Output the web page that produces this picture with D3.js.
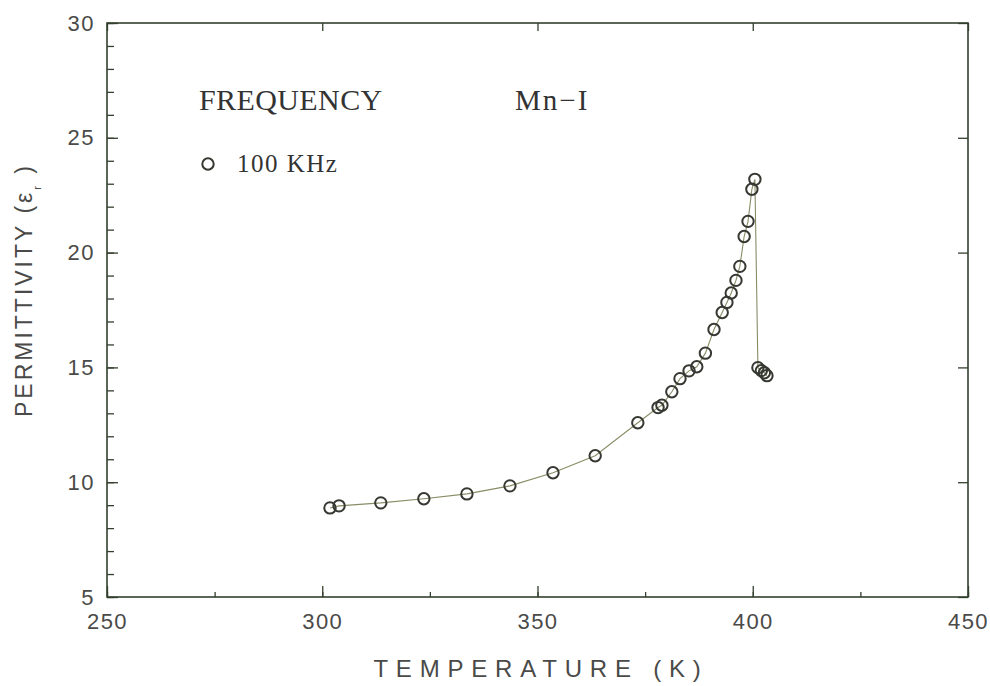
<!DOCTYPE html>
<html>
<head>
<meta charset="utf-8">
<script src="https://cdn.jsdelivr.net/npm/d3@7"></script>
<style>
  body { margin: 0; background: #fff; }
  svg { display: block; }
</style>
</head>
<body>
<div class="chart"></div>
<script>
// data (Mn-I, 100 KHz)
var temperature = [301.8, 303.9, 313.6, 323.6, 333.6, 343.6, 353.6, 363.4, 373.3, 378.0,
    378.9, 381.2, 383.1, 385.2, 387.0, 389.0, 391.0, 392.9, 394.0, 395.0,
    396.1, 397.0, 398.0, 398.9, 399.8, 400.5, 401.2, 402.0, 402.7, 403.3];
var permittivity = [8.88, 8.97, 9.10, 9.28, 9.49, 9.84, 10.41, 11.15, 12.59, 13.25,
    13.35, 13.94, 14.51, 14.85, 15.03, 15.62, 16.65, 17.39, 17.83, 18.24,
    18.79, 19.40, 20.70, 21.36, 22.76, 23.19, 14.99, 14.86, 14.77, 14.64];
var xTicks = [250, 300, 350, 400, 450];
var yTicks = [5, 10, 15, 20, 25, 30];

var svgWidth = 990;
var svgHeight = 686;

var margin = { top: 23, right: 22, bottom: 89, left: 107 };
var width = svgWidth - margin.left - margin.right;
var height = svgHeight - margin.top - margin.bottom;

var frameColor = "#34402f";
var textColor = "#4a4a48";

var svg = d3.select(".chart")
    .append("svg")
    .attr("width", svgWidth)
    .attr("height", svgHeight);

var chartGroup = svg.append("g")
    .attr("transform", `translate(${margin.left}, ${margin.top})`);

var xScale = d3.scaleLinear().domain([250, 450]).range([0, width]);
var yScale = d3.scaleLinear().domain([5, 30]).range([height, 0]);

// minor ticks
var xMinor = d3.range(250, 451, 25);
var yMinor = d3.range(5, 31, 1);

function styleAxis(g) {
    g.select(".domain").remove();
    g.selectAll(".tick line").attr("stroke", frameColor).attr("stroke-width", 1.3);
    g.selectAll(".tick text")
        .attr("fill", textColor)
        .style("font-family", "'Liberation Sans', Arial, sans-serif")
        .style("font-size", "22px")
        .style("letter-spacing", "1.5px");
}

// bottom: minor + major ticks pointing in
chartGroup.append("g")
    .attr("transform", `translate(0, ${height})`)
    .call(d3.axisBottom(xScale).tickValues(xMinor).tickSize(-5).tickFormat(""))
    .call(styleAxis);
chartGroup.append("g")
    .attr("transform", `translate(0, ${height})`)
    .call(d3.axisBottom(xScale).tickValues(xTicks).tickSize(-11).tickPadding(16).tickFormat(d3.format("d")))
    .call(styleAxis);

// top: major ticks only
chartGroup.append("g")
    .call(d3.axisTop(xScale).tickValues(xTicks).tickSize(-8).tickFormat(""))
    .call(styleAxis);

// left: minor + major
chartGroup.append("g")
    .call(d3.axisLeft(yScale).tickValues(yMinor).tickSize(-7).tickFormat(""))
    .call(styleAxis);
chartGroup.append("g")
    .call(d3.axisLeft(yScale).tickValues(yTicks).tickSize(-11).tickPadding(12).tickFormat(d3.format("d")))
    .call(styleAxis);

// right: major ticks only
chartGroup.append("g")
    .attr("transform", `translate(${width}, 0)`)
    .call(d3.axisRight(yScale).tickValues(yTicks).tickSize(-10).tickFormat(""))
    .call(styleAxis);

// frame
chartGroup.append("rect")
    .attr("x", 0)
    .attr("y", 0)
    .attr("width", width)
    .attr("height", height)
    .attr("fill", "none")
    .attr("stroke", frameColor)
    .attr("stroke-width", 1.6);

var points = temperature.map(function(t, i) {
    return { t: t, v: permittivity[i] };
});

var line = d3.line()
    .x(d => xScale(d.t))
    .y(d => yScale(d.v));

chartGroup.append("path")
    .datum(points)
    .attr("d", line)
    .attr("fill", "none")
    .attr("stroke", "#8a8c66")
    .attr("stroke-width", 1.1);

chartGroup.selectAll("circle.pt")
    .data(points)
    .enter()
    .append("circle")
    .attr("class", "pt")
    .attr("cx", d => xScale(d.t))
    .attr("cy", d => yScale(d.v))
    .attr("r", 5.7)
    .attr("fill", "none")
    .attr("stroke", "#363832")
    .attr("stroke-width", 2);

// annotations
var serif = "'Liberation Serif', 'Times New Roman', serif";

svg.append("text")
    .attr("x", 199)
    .attr("y", 110)
    .attr("fill", "#333")
    .style("font-family", serif)
    .style("font-size", "30px")
    .style("letter-spacing", "0.4px")
    .text("FREQUENCY");

svg.append("text")
    .attr("x", 515)
    .attr("y", 110)
    .attr("fill", "#333")
    .style("font-family", serif)
    .style("font-size", "29px")
    .style("letter-spacing", "2px")
    .text("Mn\u2212I");

svg.append("circle")
    .attr("cx", 208)
    .attr("cy", 164)
    .attr("r", 5.7)
    .attr("fill", "none")
    .attr("stroke", "#363832")
    .attr("stroke-width", 2);

svg.append("text")
    .attr("x", 237)
    .attr("y", 172)
    .attr("fill", "#333")
    .style("font-family", serif)
    .style("font-size", "25px")
    .style("letter-spacing", "1.5px")
    .text("100 KHz");

// axis titles
svg.append("text")
    .attr("x", 541)
    .attr("y", 677)
    .attr("text-anchor", "middle")
    .attr("fill", textColor)
    .style("font-family", "'Liberation Sans', Arial, sans-serif")
    .style("font-size", "24px")
    .style("letter-spacing", "7.8px")
    .text("TEMPERATURE (K)");

var yLabel = svg.append("text")
    .attr("transform", "translate(32, 290) rotate(-90)")
    .attr("text-anchor", "middle")
    .attr("fill", textColor)
    .style("font-family", "'Liberation Sans', Arial, sans-serif")
    .style("font-size", "23px")
    .style("letter-spacing", "3px");

yLabel.append("tspan").text("PERMITTIVITY (");
yLabel.append("tspan").text("\u03b5");
yLabel.append("tspan").attr("dy", "9").style("font-size", "11px").text("r");
yLabel.append("tspan").attr("dy", "-9").text(" )");
</script>
</body>
</html>
